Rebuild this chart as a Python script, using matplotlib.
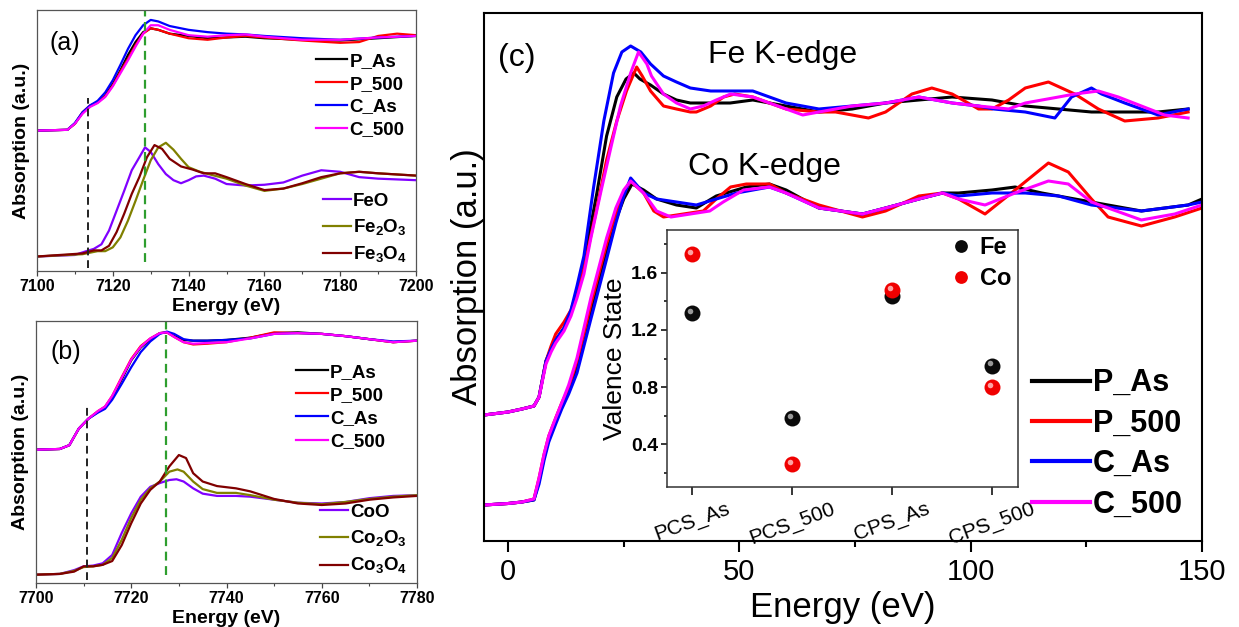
import matplotlib

matplotlib.use("Agg")
import matplotlib.pyplot as plt
import matplotlib.transforms as mtransforms
import numpy as np
from matplotlib.ticker import MultipleLocator

plt.rcParams["font.family"] = ["Liberation Sans", "DejaVu Sans"]
plt.rcParams["mathtext.fontset"] = "custom"
plt.rcParams["mathtext.rm"] = "Liberation Sans"
plt.rcParams["mathtext.bf"] = "Liberation Sans:bold"

BLACK, RED, BLUE, MAGENTA = "#000000", "#ff0000", "#0000ff", "#ff00ff"
VIOLET, OLIVE, MAROON = "#8000ff", "#808000", "#800000"
GREEN = "#2e9e2e"

sample_names = ["P_As", "P_500", "C_As", "C_500"]
sample_colors = [BLACK, RED, BLUE, MAGENTA]

# ---------------- (a) Fe K-edge, samples (normalised)
a_e = [7100, 7108, 7110, 7112, 7114, 7116, 7118, 7120, 7122, 7124, 7126, 7128,
       7130, 7132, 7135, 7140, 7145, 7150, 7155, 7160, 7170, 7180, 7190, 7200]
a_e_p500 = [7100, 7108, 7110, 7112, 7114, 7116, 7118, 7120, 7122, 7124, 7126, 7128,
            7130, 7132, 7135, 7140, 7145, 7150, 7155, 7160, 7170, 7180, 7185, 7190, 7195, 7200]
a_pas = [0, 0.01, 0.09, 0.23, 0.32, 0.37, 0.46, 0.61, 0.79, 0.99, 1.16, 1.29,
         1.34, 1.32, 1.27, 1.24, 1.21, 1.22, 1.23, 1.21, 1.19, 1.18, 1.21, 1.24]
a_p500 = [0, 0.01, 0.09, 0.24, 0.33, 0.37, 0.45, 0.59, 0.77, 0.94, 1.12, 1.27,
          1.34, 1.32, 1.27, 1.21, 1.19, 1.22, 1.24, 1.22, 1.18, 1.15, 1.16, 1.24, 1.27, 1.25]
a_cas = [0, 0.01, 0.10, 0.24, 0.33, 0.39, 0.50, 0.66, 0.86, 1.07, 1.25, 1.38,
         1.45, 1.43, 1.37, 1.32, 1.29, 1.27, 1.26, 1.24, 1.21, 1.19, 1.22, 1.24]
a_c500 = [0, 0.01, 0.09, 0.22, 0.31, 0.36, 0.44, 0.58, 0.75, 0.92, 1.10, 1.27,
          1.38, 1.38, 1.32, 1.25, 1.23, 1.25, 1.26, 1.23, 1.19, 1.19, 1.22, 1.24]

# (a) Fe references
feo_e = [7100, 7110, 7113, 7115, 7117, 7119, 7121, 7123, 7125, 7127, 7128.5, 7130, 7132, 7134, 7136,
         7138, 7140, 7142, 7144, 7147, 7150, 7155, 7160, 7165, 7170, 7175, 7180, 7185, 7190, 7200]
feo = [0, 0.02, 0.07, 0.10, 0.16, 0.34, 0.60, 0.86, 1.13, 1.30, 1.43, 1.37, 1.21, 1.08, 1.00,
       0.96, 1.00, 1.05, 1.06, 1.02, 0.95, 0.93, 0.94, 0.97, 1.06, 1.13, 1.11, 1.04, 1.02, 1.00]
fe2o3_e = [7100, 7112, 7116, 7118, 7120, 7122, 7124, 7126, 7128, 7130, 7132, 7134, 7136, 7138,
           7140, 7143, 7146, 7150, 7155, 7160, 7165, 7170, 7175, 7180, 7185, 7190, 7200]
fe2o3 = [0, 0.03, 0.07, 0.07, 0.12, 0.25, 0.47, 0.73, 1.00, 1.26, 1.43, 1.49, 1.40, 1.28,
         1.17, 1.11, 1.07, 1.02, 0.93, 0.86, 0.89, 0.95, 1.02, 1.09, 1.11, 1.09, 1.06]
fe3o4_e = [7100, 7112, 7115, 7117, 7119, 7121, 7123, 7125, 7127, 7129, 7131, 7133, 7135, 7138,
           7141, 7144, 7147, 7150, 7155, 7160, 7165, 7170, 7175, 7180, 7185, 7190, 7200]
fe3o4 = [0, 0.04, 0.08, 0.08, 0.14, 0.32, 0.56, 0.82, 1.04, 1.30, 1.46, 1.41, 1.28, 1.18,
         1.14, 1.09, 1.09, 1.04, 0.95, 0.87, 0.89, 0.96, 1.04, 1.09, 1.11, 1.09, 1.06]
fe_marks = [7113.4, 7128.4]

# ---------------- (b) Co K-edge, samples
b_e = [7700, 7705, 7707, 7709, 7711, 7713, 7714.5, 7716, 7718, 7720, 7722, 7724, 7726, 7727.5,
       7729, 7731, 7733, 7736, 7740, 7745, 7750, 7755, 7760, 7765, 7770, 7775, 7780]
b_pas = [0, 0.01, 0.06, 0.28, 0.41, 0.50, 0.56, 0.69, 0.93, 1.18, 1.35, 1.46, 1.54, 1.55,
         1.50, 1.45, 1.44, 1.44, 1.45, 1.48, 1.54, 1.55, 1.53, 1.50, 1.46, 1.42, 1.44]
b_p500 = [0, 0.01, 0.06, 0.28, 0.41, 0.51, 0.57, 0.71, 0.96, 1.20, 1.37, 1.47, 1.54, 1.55,
          1.49, 1.42, 1.39, 1.40, 1.42, 1.48, 1.55, 1.54, 1.53, 1.50, 1.46, 1.42, 1.44]
b_cas = [0, 0.01, 0.06, 0.28, 0.41, 0.49, 0.54, 0.66, 0.87, 1.09, 1.29, 1.43, 1.53, 1.56,
         1.53, 1.46, 1.44, 1.44, 1.45, 1.47, 1.53, 1.54, 1.53, 1.50, 1.46, 1.43, 1.44]
b_c500 = [0, 0.01, 0.06, 0.28, 0.41, 0.51, 0.57, 0.71, 0.95, 1.19, 1.36, 1.47, 1.54, 1.55,
          1.49, 1.42, 1.40, 1.41, 1.42, 1.47, 1.53, 1.54, 1.53, 1.50, 1.46, 1.42, 1.44]

# (b) Co references
coo_e = [7700, 7705, 7708, 7710, 7712, 7714, 7716, 7718, 7720, 7722, 7724, 7726, 7728, 7729.5,
         7731, 7733, 7735, 7738, 7742, 7745, 7750, 7755, 7760, 7765, 7770, 7775, 7780]
coo = [0, 0.01, 0.06, 0.11, 0.12, 0.15, 0.26, 0.55, 0.81, 1.03, 1.16, 1.21, 1.25, 1.26,
       1.23, 1.14, 1.07, 1.04, 1.04, 1.03, 0.99, 0.95, 0.94, 0.96, 1.01, 1.04, 1.05]
co2o3_e = [7700, 7705, 7708, 7710, 7712, 7714, 7716, 7718, 7720, 7722, 7724, 7726, 7728, 7729.7,
           7731, 7733, 7735, 7738, 7742, 7745, 7750, 7755, 7760, 7765, 7770, 7775, 7780]
co2o3 = [0, 0.01, 0.05, 0.10, 0.11, 0.13, 0.22, 0.46, 0.75, 0.99, 1.14, 1.23, 1.36, 1.39,
         1.36, 1.23, 1.13, 1.08, 1.08, 1.05, 0.99, 0.95, 0.93, 0.96, 1.00, 1.03, 1.05]
co3o4_e = [7700, 7705, 7708, 7710, 7712, 7714, 7716, 7718, 7720, 7722, 7724, 7726, 7728, 7730,
           7731.5, 7733, 7735, 7738, 7742, 7745, 7750, 7755, 7760, 7765, 7770, 7775, 7780]
co3o4 = [0, 0.01, 0.04, 0.11, 0.11, 0.13, 0.18, 0.39, 0.68, 0.94, 1.12, 1.23, 1.43, 1.58,
         1.54, 1.34, 1.23, 1.17, 1.14, 1.10, 1.00, 0.94, 0.92, 0.94, 0.99, 1.02, 1.04]
co_marks = [7710.7, 7727.2]

# ---------------- (c) relative energy, Fe and Co K-edges
fe_pas_e = [-5.2, 0, 3, 5.6, 6.7, 8.2, 9.3, 10.3, 12.1, 13.6, 14.9, 16.4, 19.2, 21.3, 23.5, 25.5, 27.2,
            28.5, 30.8, 33.6, 36.4, 39.4, 43.8, 48, 52.9, 60.1, 67.2, 74.4, 81.6, 88.8, 96, 104.6,
            111.8, 119, 126.1, 133.3, 140.5, 147]
fe_pas = [0, 0.01, 0.02, 0.03, 0.06, 0.18, 0.22, 0.25, 0.29, 0.34, 0.41, 0.51, 0.74, 0.93, 1.06, 1.12,
          1.14, 1.12, 1.10, 1.07, 1.05, 1.04, 1.04, 1.04, 1.05, 1.03, 1.01, 1.02, 1.04, 1.05, 1.06,
          1.05, 1.03, 1.02, 1.01, 1.01, 1.01, 1.02]
fe_cas_e = [-5.2, 0, 3, 5.6, 6.7, 8.2, 9.3, 10.3, 12.1, 13.6, 14.9, 16.4, 18.5, 20.7, 22.8, 24.6, 26.5,
            28.7, 30.8, 33.6, 36.4, 39.4, 43.8, 48, 52.9, 60.1, 67.2, 74.4, 81.6, 88.8, 96, 101.7, 105,
            111.8, 118.2, 121.8, 126.1, 128.3, 133.3, 140.5, 147]
fe_cas = [0, 0.01, 0.02, 0.03, 0.06, 0.18, 0.22, 0.25, 0.29, 0.35, 0.43, 0.53, 0.76, 0.98, 1.14, 1.21,
          1.23, 1.21, 1.17, 1.13, 1.11, 1.09, 1.08, 1.08, 1.08, 1.04, 1.02, 1.03, 1.04, 1.06, 1.04,
          1.03, 1.02, 1.01, 0.99, 1.06, 1.09, 1.07, 1.04, 1.00, 1.02]
fe_p500_e = [-5.2, 0, 3, 5.6, 6.7, 8.2, 9.3, 10.3, 12.1, 13.6, 14.9, 16.4, 19.2, 21.3, 23.5, 25.6, 27.8,
             29, 30.8, 33.6, 36.4, 39.4, 40.7, 43.8, 46.6, 49, 52.9, 60.1, 67.2, 70.8, 77.9, 81.6, 87.3,
             91.6, 96, 101.7, 104.6, 108.2, 111.8, 116.8, 122.5, 127.6, 133.3, 140.5, 147]
fe_p500 = [0, 0.01, 0.02, 0.03, 0.06, 0.18, 0.23, 0.27, 0.31, 0.35, 0.41, 0.49, 0.69, 0.85, 0.98, 1.08,
           1.16, 1.13, 1.08, 1.03, 1.02, 1.01, 1.01, 1.03, 1.06, 1.07, 1.06, 1.02, 1.01, 1.01, 0.99,
           1.01, 1.07, 1.09, 1.07, 1.02, 1.02, 1.05, 1.09, 1.11, 1.07, 1.02, 0.98, 0.99, 1.01]
fe_c500_e = [-5.2, 0, 3, 5.6, 6.7, 8.2, 9.3, 10.3, 12.1, 13.6, 14.9, 16.4, 17.9, 20, 22.2, 24.3, 26.5,
             28.2, 30, 31, 33.6, 36.4, 39.4, 42.2, 45, 48.1, 52.9, 60.1, 63.7, 67.2, 74.4, 81.6, 88.8,
             96, 101.7, 108.2, 111.8, 119, 122.5, 127.6, 131.9, 136.9, 141.9, 147]
fe_c500 = [0, 0.01, 0.02, 0.03, 0.06, 0.17, 0.21, 0.24, 0.28, 0.33, 0.39, 0.47, 0.59, 0.74, 0.89, 1.03,
           1.14, 1.21, 1.17, 1.13, 1.07, 1.04, 1.02, 1.03, 1.05, 1.07, 1.06, 1.02, 1.00, 1.01, 1.03,
           1.04, 1.06, 1.04, 1.03, 1.02, 1.04, 1.06, 1.07, 1.08, 1.06, 1.03, 1.00, 0.99]

co_pas_e = [-5.2, 0, 3, 5.6, 6.7, 7.8, 8.8, 10.3, 11.6, 13.1, 14.9, 16.4, 17.9, 19.6, 21.3, 23.3, 25,
            26.8, 29.3, 32.1, 36.4, 40.7, 45, 51.5, 56.5, 60.1, 67.2, 76.6, 81.6, 88.8, 93.9, 97.4,
            104.6, 109.6, 115.4, 126.1, 136.9, 147, 150]
co_pas = [0, 0.005, 0.01, 0.017, 0.08, 0.16, 0.22, 0.28, 0.33, 0.38, 0.46, 0.55, 0.64, 0.74, 0.84, 0.95,
          1.02, 1.07, 1.05, 1.02, 1.00, 0.99, 1.03, 1.06, 1.07, 1.05, 0.99, 0.97, 0.99, 1.02, 1.04,
          1.04, 1.05, 1.06, 1.04, 1.01, 0.98, 1.00, 1.02]
co_cas_e = [-5.2, 0, 3, 5.6, 6.7, 7.8, 8.8, 10.3, 11.6, 13.1, 14.9, 16.4, 17.9, 19.6, 21.3, 23.3, 25,
            26.5, 29.3, 32.1, 36.4, 40.7, 45, 49.4, 56.5, 60.1, 67.2, 76.6, 81.6, 88.8, 93.9, 97.4,
            104.6, 111.8, 119, 126.1, 136.9, 147, 150]
co_cas = [0, 0.005, 0.01, 0.017, 0.07, 0.15, 0.21, 0.27, 0.32, 0.37, 0.44, 0.53, 0.62, 0.72, 0.82, 0.94,
          1.03, 1.09, 1.04, 1.02, 1.01, 1.00, 1.02, 1.04, 1.06, 1.04, 0.99, 0.97, 0.99, 1.02, 1.04,
          1.03, 1.04, 1.04, 1.03, 1.00, 0.98, 1.00, 1.01]
co_p500_e = [-5.2, 0, 3, 5.6, 6.7, 7.8, 8.8, 10.3, 11.6, 13.1, 14.9, 16.4, 17.9, 19.6, 21.3, 23.3, 25,
             26.5, 29.3, 31.5, 33.6, 37.9, 42.2, 45, 48.1, 51.5, 56.5, 60.1, 67.2, 76.6, 81.6, 88.8,
             93.9, 97.4, 103.1, 109.6, 116.8, 121.1, 126.1, 129.7, 136.9, 144.1, 150]
co_p500 = [0, 0.005, 0.01, 0.02, 0.09, 0.17, 0.23, 0.29, 0.34, 0.39, 0.48, 0.57, 0.67, 0.77, 0.87, 0.97,
           1.04, 1.08, 1.04, 0.98, 0.96, 0.97, 0.98, 1.02, 1.06, 1.07, 1.07, 1.04, 1.00, 0.96, 0.98,
           1.03, 1.04, 1.02, 0.97, 1.05, 1.14, 1.11, 1.02, 0.96, 0.93, 0.96, 0.99]
co_c500_e = [-5.2, 0, 3, 5.6, 6.7, 7.8, 8.8, 10.3, 11.6, 13.1, 14.9, 16.4, 17.9, 19.6, 21.3, 23.3, 25,
             26.5, 29.3, 32.1, 35.2, 39.4, 43.6, 46.5, 50.9, 56.5, 60.1, 67.2, 76.6, 81.6, 88.8, 93.9,
             97.4, 103.1, 109.6, 116.8, 121.1, 126.1, 136.9, 144.1, 150]
co_c500 = [0, 0.005, 0.01, 0.02, 0.09, 0.17, 0.23, 0.29, 0.34, 0.40, 0.49, 0.59, 0.69, 0.79, 0.89, 0.99,
           1.05, 1.08, 1.04, 0.98, 0.96, 0.97, 0.98, 1.01, 1.05, 1.06, 1.04, 0.99, 0.97, 0.99, 1.02,
           1.04, 1.02, 1.00, 1.04, 1.08, 1.07, 1.01, 0.95, 0.97, 1.00]

# ---------------- inset: valence states
inset_samples = ["PCS_As", "PCS_500", "CPS_As", "CPS_500"]
fe_valence = [1.32, 0.58, 1.44, 0.95]
co_valence = [1.73, 0.26, 1.48, 0.80]

SAMPLE_OFFSET = 1.65   # vertical shift of sample spectra above the references, (a) and (b)
FE_OFFSET_C = 0.30     # vertical shift of Fe above Co in (c)

W, H = 1239, 627
fig = plt.figure(figsize=(W / 100, H / 100), dpi=100)


def box(l, t, r, b):
    return [l / W, 1 - b / H, (r - l) / W, (b - t) / H]


def small_panel(ax, xlim, ylim, major):
    ax.set_xlim(*xlim)
    ax.set_ylim(*ylim)
    ax.set_yticks([])
    ax.xaxis.set_major_locator(MultipleLocator(major))
    ax.xaxis.set_minor_locator(MultipleLocator(major / 2))
    ax.tick_params(axis="x", which="major", direction="out", length=3.6, width=0.9,
                   labelsize=11.5, pad=2, color="#444")
    ax.tick_params(axis="x", which="minor", direction="out", length=2, width=0.8, color="#444")
    for lbl in ax.get_xticklabels():
        lbl.set_fontweight("bold")
    for s in ax.spines.values():
        s.set_color("#555")
        s.set_linewidth(0.9)
    ax.set_xlabel("Energy (eV)", fontsize=14, fontweight="bold", labelpad=3)
    ax.set_ylabel("Absorption (a.u.)", fontsize=14, fontweight="bold", labelpad=5)


def legend_kw(size, spacing, hlen):
    return dict(frameon=False, prop={"weight": "bold", "size": size}, handlelength=hlen,
                handletextpad=0.1, labelspacing=spacing, borderpad=0, borderaxespad=0)


# === (a) =====================================================================
ax_a = fig.add_axes(box(37, 10, 416, 271))
samp_lines = []
for e, v, c, n in zip([a_e, a_e_p500, a_e, a_e], [a_pas, a_p500, a_cas, a_c500], sample_colors, sample_names):
    ln, = ax_a.plot(e, np.array(v) + SAMPLE_OFFSET, color=c, lw=1.6, label=n)
    samp_lines.append(ln)
ref_lines = []
for e, v, c, n in zip([feo_e, fe2o3_e, fe3o4_e], [feo, fe2o3, fe3o4], [VIOLET, OLIVE, MAROON],
                      ["FeO", r"Fe$_\mathbf{2}$O$_\mathbf{3}$", r"Fe$_\mathbf{3}$O$_\mathbf{4}$"]):
    ln, = ax_a.plot(e, v, color=c, lw=1.6, label=n)
    ref_lines.append(ln)
ax_a.axvline(fe_marks[0], ymin=0.01, ymax=0.663, color="#222", lw=1.4, ls=(0, (4, 2.5)))
ax_a.axvline(fe_marks[1], ymin=0.035, ymax=1.0, color=GREEN, lw=1.6, ls=(0, (4, 2.5)))
small_panel(ax_a, (7100, 7200), (-0.19, 3.23), 20)
leg1 = ax_a.legend(handles=samp_lines, loc="center left", bbox_to_anchor=(0.735, 0.672),
                   **legend_kw(13.5, 0.3, 1.7))
ax_a.add_artist(leg1)
ax_a.legend(handles=ref_lines, loc="center left", bbox_to_anchor=(0.755, 0.161),
            **legend_kw(13.5, 0.4, 1.5))
ax_a.text(0.034, 0.874, "(a)", transform=ax_a.transAxes, fontsize=18, va="center", ha="left")

# === (b) =====================================================================
ax_b = fig.add_axes(box(36, 321, 417, 583))
samp_lines = []
for v, c, n in zip([b_pas, b_p500, b_cas, b_c500], sample_colors, sample_names):
    ln, = ax_b.plot(b_e, np.array(v) + SAMPLE_OFFSET, color=c, lw=1.6, label=n)
    samp_lines.append(ln)
ref_lines = []
for e, v, c, n in zip([coo_e, co2o3_e, co3o4_e], [coo, co2o3, co3o4], [VIOLET, OLIVE, MAROON],
                      ["CoO", r"Co$_\mathbf{2}$O$_\mathbf{3}$", r"Co$_\mathbf{3}$O$_\mathbf{4}$"]):
    ln, = ax_b.plot(e, v, color=c, lw=1.6, label=n)
    ref_lines.append(ln)
ax_b.axvline(co_marks[0], ymin=0.011, ymax=0.672, color="#222", lw=1.4, ls=(0, (4, 2.5)))
ax_b.axvline(co_marks[1], ymin=0.03, ymax=1.0, color=GREEN, lw=1.6, ls=(0, (4, 2.5)))
small_panel(ax_b, (7700, 7780), (-0.11, 3.35), 20)
leg2 = ax_b.legend(handles=samp_lines, loc="center left", bbox_to_anchor=(0.683, 0.672),
                   **legend_kw(13.5, 0.32, 1.7))
ax_b.add_artist(leg2)
ax_b.legend(handles=ref_lines, loc="center left", bbox_to_anchor=(0.745, 0.164),
            **legend_kw(13.5, 0.4, 1.5))
ax_b.text(0.037, 0.882, "(b)", transform=ax_b.transAxes, fontsize=18, va="center", ha="left")

# === (c) =====================================================================
ax_c = fig.add_axes(box(484, 13, 1202, 541))
fe_sets = [(fe_pas_e, fe_pas), (fe_p500_e, fe_p500), (fe_cas_e, fe_cas), (fe_c500_e, fe_c500)]
co_sets = [(co_pas_e, co_pas), (co_p500_e, co_p500), (co_cas_e, co_cas), (co_c500_e, co_c500)]
main_lines = []
for (fe_e, fe_v), (co_e, co_v), c, n in zip(fe_sets, co_sets, sample_colors, sample_names):
    ax_c.plot(fe_e, np.array(fe_v) + FE_OFFSET_C, color=c, lw=2.2)
    ln, = ax_c.plot(co_e, co_v, color=c, lw=2.2, label=n)
    main_lines.append(ln)
ax_c.set_xlim(-5.2, 150)
ax_c.set_ylim(-0.12, 1.64)
ax_c.set_yticks([])
ax_c.xaxis.set_major_locator(MultipleLocator(50))
ax_c.xaxis.set_minor_locator(MultipleLocator(25))
ax_c.tick_params(axis="x", which="major", direction="out", length=8, width=1.5, labelsize=21, pad=4)
ax_c.tick_params(axis="x", which="minor", direction="out", length=4.5, width=1.5)
for s in ax_c.spines.values():
    s.set_linewidth(1.5)
ax_c.set_xlabel("Energy (eV)", fontsize=25, labelpad=4)
ax_c.set_ylabel("Absorption (a.u.)", fontsize=25, labelpad=0)
ax_c.text(0.02, 0.915, "(c)", transform=ax_c.transAxes, fontsize=23, va="center", ha="left")
ax_c.text(0.312, 0.920, "Fe K-edge", transform=ax_c.transAxes, fontsize=23, va="center", ha="left")
ax_c.text(0.284, 0.708, "Co K-edge", transform=ax_c.transAxes, fontsize=23, va="center", ha="left")
ax_c.legend(handles=main_lines, loc="center left", bbox_to_anchor=(0.763, 0.184),
            **legend_kw(22, 0.34, 1.9))
for ln in ax_c.get_legend().get_lines():
    ln.set_linewidth(3.0)

# === inset: valence states ====================================================
ax_in = fig.add_axes(box(667, 230, 1018, 487))
hi = mtransforms.offset_copy(ax_in.transData, fig=fig, x=-1.6, y=1.6, units="points")
fe_h, = ax_in.plot(inset_samples, fe_valence, "o", ms=11.5, color="#0a0a0a", mec="none", label="Fe")
ax_in.plot(inset_samples, fe_valence, "o", ms=4, color="#a8a8a8", mec="none", alpha=0.9, transform=hi)
co_h, = ax_in.plot(inset_samples, co_valence, "o", ms=11.5, color="#f00000", mec="none", label="Co")
ax_in.plot(inset_samples, co_valence, "o", ms=4, color="#ffb4b4", mec="none", alpha=0.9, transform=hi)
ax_in.set_xlim(-0.25, 3.26)
ax_in.set_ylim(0.10, 1.90)
ax_in.yaxis.set_minor_locator(MultipleLocator(0.2))
ax_in.set_yticks([0.4, 0.8, 1.2, 1.6])
ax_in.set_yticklabels(["0.4", "0.8", "1.2", "1.6"], fontweight="bold")
ax_in.tick_params(axis="y", which="major", direction="out", length=4.5, width=1.1, labelsize=14, pad=2)
ax_in.tick_params(axis="y", which="minor", direction="out", length=2.5, width=1.1)
ax_in.tick_params(axis="x", which="major", direction="out", length=6, width=1.1, labelsize=15, pad=3)
for lbl in ax_in.get_xticklabels():
    lbl.set_rotation(20)
    lbl.set_ha("center")
for s in ax_in.spines.values():
    s.set_linewidth(1.1)
    s.set_color("#333")
ax_in.set_ylabel("Valence State", fontsize=19, labelpad=3)
ax_in.legend(handles=[fe_h, co_h], loc="upper left", bbox_to_anchor=(0.8, 0.985), frameon=False,
             prop={"weight": "bold", "size": 17}, markerscale=0.8, handlelength=0.9,
             handletextpad=0.35, labelspacing=0.35, borderpad=0.1, borderaxespad=0)

fig.savefig("out.png", dpi=100)
